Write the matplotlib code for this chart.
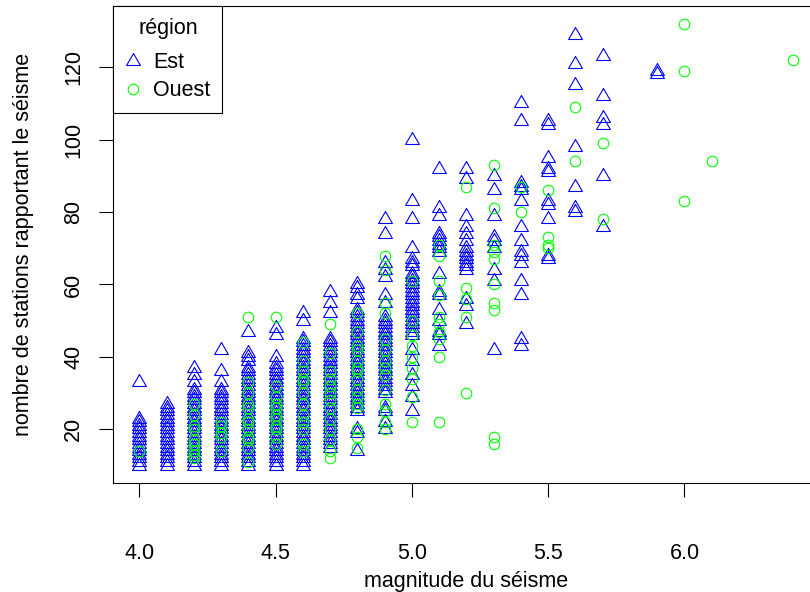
import numpy as np
import matplotlib
matplotlib.use("Agg")
import matplotlib.pyplot as plt

plt.rcParams['font.family'] = ['Liberation Sans', 'DejaVu Sans']

# stations per magnitude, eastern quakes
est_mags = [4.0, 4.1, 4.2, 4.3, 4.4, 4.5, 4.6, 4.7, 4.8, 4.9,
            5.0, 5.1, 5.2, 5.3, 5.4, 5.5, 5.6, 5.7, 5.9]
est_stations = [
    [10, 11, 12, 13, 14, 15, 16, 17, 18, 19, 20, 21, 22, 23, 33],
    [10, 11, 12, 13, 14, 15, 16, 17, 18, 19, 20, 21, 22, 23, 24, 25, 26, 27],
    [10, 11, 12, 13, 14, 15, 16, 17, 18, 19, 20, 21, 22, 23, 24, 25, 26, 27,
     28, 29, 30, 31, 33, 35, 37],
    [10, 11, 12, 13, 14, 15, 16, 17, 18, 19, 20, 21, 22, 23, 24, 25, 26, 27,
     28, 29, 30, 31, 33, 36, 42],
    [10, 11, 12, 13, 14, 15, 16, 17, 18, 19, 20, 21, 22, 23, 24, 25, 26, 27,
     28, 29, 30, 31, 32, 33, 34, 35, 36, 37, 39, 40, 41, 47],
    [10, 11, 12, 13, 14, 15, 16, 17, 18, 19, 20, 21, 22, 23, 24, 25, 26, 27,
     28, 29, 30, 31, 32, 33, 34, 35, 36, 37, 38, 40, 46, 48],
    [10, 11, 12, 13, 14, 15, 16, 17, 18, 19, 20, 21, 22, 23, 24, 25, 26, 27,
     28, 29, 30, 31, 32, 33, 34, 35, 36, 37, 38, 39, 40, 41, 42, 43, 44, 45,
     50, 52],
    [15, 16, 17, 18, 19, 20, 21, 22, 23, 24, 25, 26, 27, 28, 29, 30, 31, 32,
     33, 34, 35, 36, 37, 38, 39, 40, 41, 42, 43, 44, 45, 52, 55, 58],
    [14, 19, 20, 25, 26, 27, 28, 29, 30, 31, 32, 33, 34, 35, 36, 37, 38, 39,
     40, 41, 42, 43, 44, 45, 46, 47, 48, 49, 50, 51, 52, 53, 56, 57, 59, 60],
    [20, 22, 25, 26, 30, 31, 32, 33, 34, 35, 36, 37, 38, 39, 40, 41, 42, 43,
     44, 45, 46, 47, 48, 49, 50, 51, 55, 57, 62, 64, 66, 74, 78],
    [25, 29, 32, 35, 39, 42, 46, 47, 48, 49, 50, 51, 52, 53, 54, 55, 56, 57,
     58, 59, 60, 61, 62, 63, 65, 66, 67, 70, 78, 83, 100],
    [43, 46, 47, 50, 53, 57, 58, 63, 69, 70, 71, 72, 73, 74, 79, 81, 92],
    [49, 54, 56, 64, 65, 66, 67, 68, 69, 70, 72, 74, 76, 79, 89, 92],
    [42, 61, 64, 70, 72, 73, 79, 86, 90],
    [43, 45, 57, 61, 66, 68, 69, 72, 76, 83, 86, 87, 88, 105, 110],
    [67, 68, 78, 82, 83, 91, 92, 95, 104, 105],
    [80, 81, 87, 98, 115, 121, 129],
    [76, 90, 104, 106, 112, 123],
    [118, 119],
]

# stations per magnitude, western quakes
ouest_mags = [4.0, 4.2, 4.3, 4.4, 4.5, 4.6, 4.7, 4.8, 4.9, 5.0,
              5.1, 5.2, 5.3, 5.4, 5.5, 5.6, 5.7, 6.0, 6.1, 6.4]
ouest_stations = [
    [14],
    [12, 13, 14, 16, 17, 20, 21, 24, 27],
    [14, 18, 19, 21, 22],
    [11, 15, 17, 18, 20, 22, 23, 26, 27, 30, 33, 51],
    [16, 18, 20, 21, 23, 24, 26, 27, 29, 32, 51],
    [14, 16, 20, 22, 24, 27, 30, 33, 34, 36, 39, 44],
    [12, 14, 17, 20, 23, 26, 28, 30, 32, 34, 36, 41, 49],
    [15, 18, 20, 26, 27, 29, 31, 34, 36, 37, 39, 42, 43, 47, 52],
    [20, 22, 25, 27, 31, 35, 37, 39, 42, 45, 52, 55, 64, 68],
    [22, 29, 34, 37, 40, 43, 46, 50, 61],
    [22, 40, 45, 47, 49, 51, 57, 61, 68, 71],
    [30, 51, 56, 59, 87],
    [16, 18, 53, 55, 60, 67, 69, 71, 81, 93],
    [80, 87],
    [70, 71, 73, 86],
    [94, 109],
    [78, 99],
    [83, 119, 132],
    [94],
    [122],
]


def flatten(mags, stations):
    x = np.concatenate([[m] * len(s) for m, s in zip(mags, stations)])
    y = np.concatenate(stations)
    return x, y


xe, ye = flatten(est_mags, est_stations)
xo, yo = flatten(ouest_mags, ouest_stations)

# R-style triangle, centred on its centroid
tri = [(0, 1), (-0.866, -0.5), (0.866, -0.5), (0, 1)]

fs = 15.5

fig = plt.figure(figsize=(8.10, 5.92), dpi=100)
W, H = 810, 592
left, right, top, bottom = 113.3, 819.6, 6, 483.3
ax = fig.add_axes([left / W, (H - bottom) / H, (right - left) / W, (bottom - top) / H])

ax.plot(xe, ye, linestyle='none', marker=tri, markersize=11.5,
        markerfacecolor='none', markeredgecolor='#0000FF', markeredgewidth=0.8,
        label='Est')
ax.plot(xo, yo, linestyle='none', marker='o', markersize=7.6,
        markerfacecolor='none', markeredgecolor='#00FF00', markeredgewidth=0.8,
        label='Ouest')

ax.set_xlim(3.904, 6.496)
ax.set_ylim(5.12, 136.88)
ax.set_xticks([4.0, 4.5, 5.0, 5.5, 6.0])
ax.set_xticklabels(['4.0', '4.5', '5.0', '5.5', '6.0'])
ax.set_yticks([20, 40, 60, 80, 100, 120])
ax.set_yticklabels(['20', '40', '60', '80', '100', '120'], rotation=90, va='center')
ax.tick_params(direction='out', length=10, width=0.8, labelsize=fs)
ax.tick_params(axis='x', pad=33)
ax.tick_params(axis='y', pad=11)
for sp in ax.spines.values():
    sp.set_linewidth(0.8)

ax.set_xlabel('magnitude du séisme', fontsize=fs, labelpad=5)
ax.set_ylabel('nombre de stations rapportant le séisme', fontsize=fs, labelpad=21)

leg = ax.legend(title='région', loc='upper left', borderaxespad=0,
                fancybox=False, edgecolor='black', framealpha=1,
                fontsize=fs, title_fontsize=fs, handletextpad=0.6,
                borderpad=0.55, labelspacing=0.33, handlelength=0.71)
leg.get_frame().set_linewidth(0.8)
# a bit more room between the title and the entries
leg._legend_box.sep = 9.5

fig.savefig('out.png', dpi=100)
